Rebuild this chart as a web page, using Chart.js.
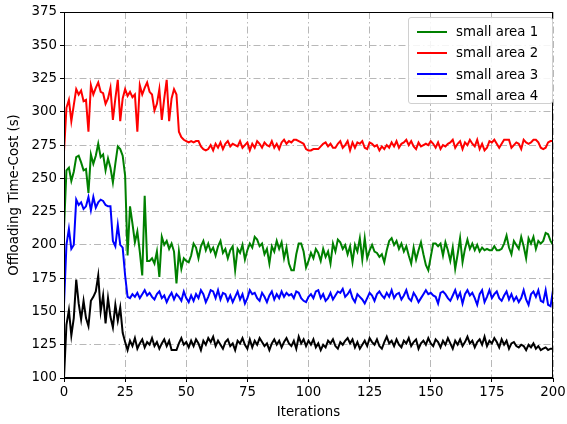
<!DOCTYPE html>
<html>
<head>
<meta charset="utf-8">
<script src="https://cdn.jsdelivr.net/npm/chart.js@4.4.1/dist/chart.umd.min.js"></script>
<style>
  body { margin: 0; background: #fff; }
  #wrap { position: relative; width: 567px; height: 424px; }
  #legend {
    position: absolute; left: 408px; top: 17px; width: 143px; height: 82px;
    border: 1px solid #d0d0d0; border-radius: 3px; background: rgba(255,255,255,0.85);
    box-sizing: content-box; padding-top: 3px;
    font-family: "DejaVu Sans", sans-serif; font-size: 13.33px; color: #000;
  }
  .legend-row { height: 21.3px; line-height: 21.3px; display: flex; align-items: center; padding-left: 8px; }
  .legend-line { width: 30px; height: 2px; margin-right: 9px; }
</style>
</head>
<body>
<div id="wrap">
  <canvas id="chart" width="567" height="424"></canvas>
  <div id="legend"></div>
</div>
<script>
const seriesNames = ["small area 1", "small area 2", "small area 3", "small area 4"];
const seriesColors = ["#008000", "#ff0000", "#0000ff", "#000000"];
const xTicks = [0, 25, 50, 75, 100, 125, 150, 175, 200];
const yTicks = [100, 125, 150, 175, 200, 225, 250, 275, 300, 325, 350, 375];

// one value per iteration, 0..200
const area1 = [
  212, 256, 258, 248, 255, 266, 267, 262, 256, 257,
  239, 268, 261, 267, 276, 266, 268, 256, 265, 258,
  247, 261, 274, 272, 267, 252, 192, 229, 216, 202,
  210, 195, 177, 237, 188, 188, 190, 186, 195, 176,
  206, 200, 203, 197, 201, 195, 171, 195, 182, 190,
  188, 187, 192, 201, 198, 190,
  199, 203, 196, 201, 195, 198, 192, 199, 203, 194,
  197, 190, 196, 199, 181, 197, 194, 200, 189, 196,
  201, 198, 206, 204, 199, 201, 193, 197, 186, 199,
  195, 203, 197, 202, 190, 198, 186, 181, 181, 193,
  201, 201, 195, 183, 188, 194, 190, 197, 194, 188,
  197, 191, 195, 186, 201, 195, 204, 202, 197, 200,
  193, 199, 187, 200, 195, 205, 189, 205, 190, 196,
  200, 195, 194, 191, 193, 187, 196, 203, 205, 200,
  203, 197, 201, 195, 199, 192, 186, 198, 189, 196,
  202, 193, 185, 181, 191, 201, 201, 199, 201, 192,
  202, 196, 188, 198, 182, 193, 205, 187, 197, 204,
  197, 201, 196, 200, 195, 198, 196, 197, 196, 196,
  199, 196, 196, 197, 201, 207, 198, 193, 203, 200,
  197, 206, 199, 190, 205, 201, 206, 197, 203, 201,
  203, 209, 208, 203, 200
];

const area2 = [
  270, 303, 309, 293, 305, 317, 313, 316, 308, 309,
  285, 320, 313, 318, 322, 315, 314, 306, 310, 318,
  294, 310, 324, 293, 310, 317, 312, 315, 311, 313,
  285, 320, 313, 318, 322, 315, 313, 301, 306, 317,
  294, 310, 324, 293, 310, 317, 313, 285, 281, 279,
  278, 277, 278, 277, 278, 278, 274, 272, 271, 272,
  275, 271, 276, 273, 277, 272, 276, 278, 274, 276,
  275, 274, 278, 273, 275, 277, 271, 276, 273, 278,
  276, 273, 277, 275, 274, 278, 273, 276, 272, 277,
  279, 276, 278, 277, 279, 279, 278, 277, 276, 272,
  271, 271, 272, 272, 272, 274, 276, 277, 274, 276,
  273, 273, 276, 278, 273, 275, 278, 271, 277, 273,
  277, 276, 278, 273, 272, 277, 276, 274, 275, 271,
  274, 272, 275, 273, 277, 274, 278, 273, 276, 277,
  279, 275, 278, 274, 272, 277, 274, 275, 276, 275,
  278, 276, 273, 277, 272, 275, 274, 276, 277, 279,
  273, 276, 278, 272, 277, 275, 279, 276, 274, 279,
  272, 276, 271, 273, 278, 277, 279, 276, 273, 276,
  279, 279, 279, 273, 275, 277, 276, 272, 279, 277,
  276, 277, 279, 279, 277, 273, 272, 273, 277, 278,
  278
];

const area3 = [
  155, 200, 212, 197, 200, 234, 230, 232, 227, 229,
  236, 226, 236, 228, 232, 234, 233, 230, 229, 229,
  203, 199, 215, 200, 198, 177, 161,
  160, 163, 161, 164, 160, 163, 166, 162, 164, 161,
  159, 163, 165, 160, 162, 157, 161, 164, 159, 163,
  161, 158, 165, 160, 157, 162, 158, 163, 160, 166,
  163, 157, 161, 166, 165, 160, 166, 159, 164, 163,
  158, 162, 157, 161, 165, 159, 163, 156, 160, 166,
  163, 164, 160, 158, 164, 161, 157, 162, 165, 159,
  163, 160, 165, 161, 164, 162, 163, 160, 165, 164,
  160, 158, 157, 161, 163, 160, 165, 166, 160, 163,
  158, 160, 164, 159, 162, 165, 164, 167, 161, 163,
  166, 160, 157, 163, 161, 159, 156, 160, 164, 162,
  158, 163, 165, 162, 160, 164, 161, 166, 160, 163,
  164, 159, 162, 166, 160, 158, 164, 161, 157, 160,
  163, 166, 163, 164, 162, 161, 156, 164, 165, 163,
  160, 158, 162, 166, 160, 164, 156, 163, 166, 162,
  164, 160, 155, 163, 166, 157, 161, 166, 160, 163,
  165, 160, 158, 162, 165, 159, 163, 158, 161, 157,
  160, 166, 159, 155, 163, 165, 161, 166, 158, 157,
  166, 155, 154, 166
];

const area4 = [
  100, 140, 151, 132, 145, 174, 156, 144, 158, 145,
  139, 158, 161, 165, 177, 150, 162, 141, 160, 146,
  138, 155, 143, 153, 134, 127, 121,
  128, 124, 130, 122, 126, 129, 123, 127, 125, 130,
  124, 127, 122, 126, 129, 124, 128, 121, 121, 121,
  126, 130, 125, 127, 123, 128, 124, 129, 126, 121,
  128, 125, 130, 127, 131, 124, 128, 125, 122, 127,
  129, 124, 126, 121, 128, 126, 130, 125, 122, 129,
  123, 128, 125, 130, 127, 124, 126, 121, 126, 129,
  125, 128, 123, 127, 130, 126, 124, 128, 122, 131,
  126, 129, 124, 128, 125, 129, 123, 126, 121, 125,
  123, 128, 126, 129, 124, 122, 127, 125, 128, 130,
  126, 129, 123, 127, 122, 125, 128, 124, 130, 127,
  125, 129, 124, 122, 127, 131, 126, 128, 124, 129,
  125, 123, 128, 126, 130, 124, 127, 129, 122, 126,
  128, 125, 130, 126, 124, 129, 127, 123, 128, 125,
  130, 126, 122, 128, 125, 129, 124, 127, 131, 126,
  128, 123, 127, 129, 125, 131, 124, 128, 126, 130,
  127, 123, 129, 125, 128, 122, 126, 127, 124, 123,
  125, 124, 121, 125, 123, 126, 122, 124, 121, 122,
  123, 121, 122, 122
];

const allSeries = [area1, area2, area3, area4];

document.addEventListener("DOMContentLoaded", () => {
  const font = { family: "'DejaVu Sans', sans-serif", size: 13.33 };
  const gridDash = [7, 3, 1.5, 3];

  // matplotlib-style box around the plot
  const frame = {
    id: "frame",
    afterDraw(chart) {
      const { ctx, chartArea: a } = chart;
      ctx.save();
      ctx.strokeStyle = "#000";
      ctx.lineWidth = 1;
      ctx.strokeRect(a.left + 0.5, a.top + 0.5, a.right - a.left - 1, a.bottom - a.top - 1);
      ctx.restore();
    },
  };

  new Chart(document.getElementById("chart"), {
    type: "line",
    data: {
      datasets: allSeries.map((vals, idx) => ({
        label: seriesNames[idx],
        data: vals.map((v, i) => ({ x: i, y: v })),
        borderColor: seriesColors[idx],
        borderWidth: 2,
        pointRadius: 0,
        tension: 0,
        fill: false,
      })),
    },
    options: {
      responsive: false,
      animation: false,
      devicePixelRatio: 1,
      layout: { padding: { left: 0, right: 14, top: 12, bottom: 0 } },
      plugins: { legend: { display: false }, tooltip: { enabled: false } },
      scales: {
        x: {
          type: "linear",
          min: 0,
          max: 200,
          afterBuildTicks: (s) => { s.ticks = xTicks.map((v) => ({ value: v })); },
          afterFit: (s) => { s.height = 46; s.paddingLeft = 0; s.paddingRight = 0; },
          ticks: { color: "#000", font, padding: 3, maxRotation: 0 },
          grid: { color: "#b8b8b8", lineWidth: 1, tickColor: "#000", tickLength: 4, tickBorderDash: [] },
          border: { display: true, color: "#000", dash: gridDash },
          title: { display: true, text: "Iterations", color: "#000", font, padding: { top: 0, bottom: 3 } },
        },
        y: {
          min: 100,
          max: 375,
          afterBuildTicks: (s) => { s.ticks = yTicks.map((v) => ({ value: v })); },
          afterFit: (s) => { s.width = 64; s.paddingTop = 0; s.paddingBottom = 0; },
          ticks: { color: "#000", font, padding: 3 },
          grid: { color: "#b8b8b8", lineWidth: 1, tickColor: "#000", tickLength: 4, tickBorderDash: [] },
          border: { display: true, color: "#000", dash: gridDash },
          title: { display: true, text: "Offloading Time-Cost (s)", color: "#000", font, padding: { top: 7, bottom: 0 } },
        },
      },
    },
    plugins: [frame],
  });

  const legend = document.getElementById("legend");
  legend.innerHTML = seriesNames
    .map((name, idx) => `
      <div class="legend-row">
        <span class="legend-line" style="background:${seriesColors[idx]}"></span>
        <span>${name}</span>
      </div>`)
    .join("");
});
</script>
</body>
</html>
